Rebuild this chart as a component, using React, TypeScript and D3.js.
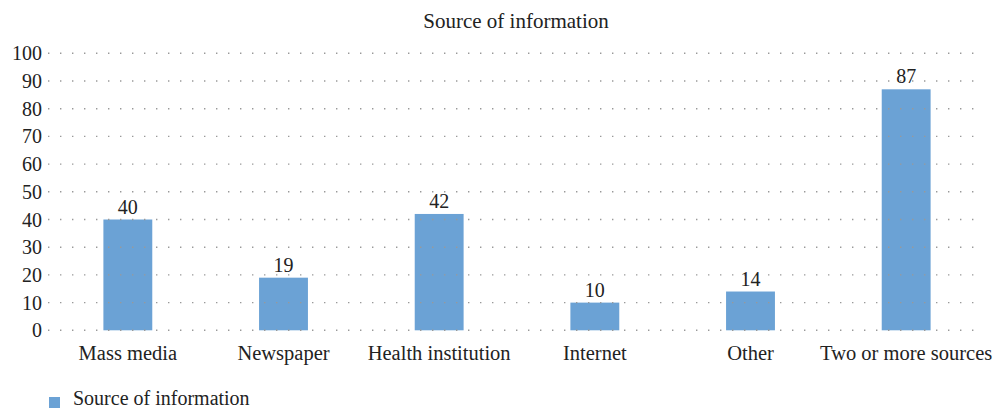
import React from 'react';
import * as d3 from 'd3';

const categories = ['Mass media', 'Newspaper', 'Health institution', 'Internet', 'Other', 'Two or more sources'];
const values = [40, 19, 42, 10, 14, 87];
const yTicks = [0, 10, 20, 30, 40, 50, 60, 70, 80, 90, 100];
const seriesName = 'Source of information';

const App: React.FC = () => {
  const ref = React.useRef<SVGSVGElement>(null);

  React.useEffect(() => {
    const svg = d3.select(ref.current);
    svg.selectAll('*').remove();
    const font = '"Liberation Serif", "Times New Roman", serif';

    const x = d3.scaleBand<string>().domain(categories).range([50, 984]).paddingInner(0.686).paddingOuter(0.343);
    const y = d3.scaleLinear().domain([0, 100]).range([330.3, 53.3]);

    svg
      .append('text')
      .attr('x', 516)
      .attr('y', 28)
      .attr('text-anchor', 'middle')
      .style('font-family', font)
      .style('font-size', '21px')
      .attr('fill', '#222')
      .text(seriesName);

    const bars = svg.append('g');
    bars
      .selectAll('rect')
      .data(values)
      .enter()
      .append('rect')
      .attr('x', (_d, i) => x(categories[i]) as number)
      .attr('y', (d) => y(d))
      .attr('width', x.bandwidth())
      .attr('height', (d) => y(0) - y(d))
      .attr('fill', '#6ba2d5');

    const grid = svg.append('g');
    grid
      .selectAll('line')
      .data(yTicks)
      .enter()
      .append('line')
      .attr('x1', 48)
      .attr('x2', 976)
      .attr('y1', (d) => y(d))
      .attr('y2', (d) => y(d))
      .attr('stroke', '#999')
      .attr('stroke-width', 1.4)
      .attr('stroke-dasharray', '1.4 10.6')
      .attr('stroke-linecap', 'butt');

    svg
      .append('g')
      .selectAll('text')
      .data(yTicks)
      .enter()
      .append('text')
      .attr('x', 42)
      .attr('y', (d) => y(d) + 7)
      .attr('text-anchor', 'end')
      .style('font-family', font)
      .style('font-size', '20px')
      .attr('fill', '#222')
      .text((d) => d);

    svg
      .append('g')
      .selectAll('text')
      .data(categories)
      .enter()
      .append('text')
      .attr('x', (d) => (x(d) as number) + x.bandwidth() / 2)
      .attr('y', 360)
      .attr('text-anchor', 'middle')
      .style('font-family', font)
      .style('font-size', '20.5px')
      .attr('fill', '#222')
      .text((d) => d);

    svg
      .append('g')
      .selectAll('text')
      .data(values)
      .enter()
      .append('text')
      .attr('x', (_d, i) => (x(categories[i]) as number) + x.bandwidth() / 2)
      .attr('y', (d) => y(d) - 6)
      .attr('text-anchor', 'middle')
      .style('font-family', font)
      .style('font-size', '20px')
      .attr('fill', '#222')
      .text((d) => d);

    svg
      .append('rect')
      .attr('x', 49)
      .attr('y', 397)
      .attr('width', 11)
      .attr('height', 11)
      .attr('fill', '#6ba2d5');
    svg
      .append('text')
      .attr('x', 73)
      .attr('y', 405)
      .style('font-family', font)
      .style('font-size', '20px')
      .attr('fill', '#222')
      .text(seriesName);
  }, []);

  return (
    <svg
      ref={ref}
      width={993}
      height={410}
      style={{ position: 'absolute', left: 0, top: 0, background: '#fff' }}
    />
  );
};

export default App;
